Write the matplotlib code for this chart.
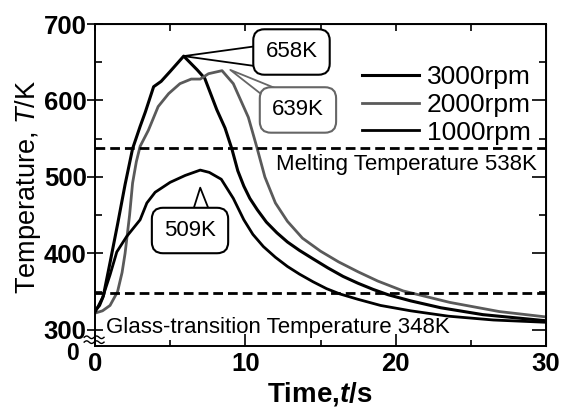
import numpy as np
import matplotlib
matplotlib.use("Agg")
import matplotlib.pyplot as plt
from matplotlib.ticker import MultipleLocator

plt.rcParams['font.family'] = ['Liberation Sans', 'DejaVu Sans']
plt.rcParams['mathtext.fontset'] = 'custom'
plt.rcParams['mathtext.rm'] = 'Liberation Sans'
plt.rcParams['mathtext.it'] = 'Liberation Sans:italic'
plt.rcParams['mathtext.bfit'] = 'Liberation Sans:bold:italic'

# datos
t3000 = [0, 0.3, 0.55, 1.0, 1.5, 2.0, 2.5, 3.0, 3.35, 3.9, 4.4, 5.0, 5.9, 6.8, 7.3, 8.1,
         8.65, 9.1, 9.5, 9.9, 10.3, 10.8, 11.4, 12.1, 12.8, 13.6, 14.5, 15.5, 16.5, 17.5,
         18.5, 19.5, 21.0, 23.0, 25.8, 30.0]
T3000 = [325, 332, 344, 388, 438, 490, 537, 566, 585, 618, 625, 638, 658, 640, 629, 588,
         564, 537, 508, 488, 472, 457, 441, 427, 415, 404, 393, 381, 370, 361,
         353, 346, 338, 329, 320, 312]

t2000 = [0, 0.5, 1.0, 1.5, 1.8, 2.0, 2.3, 2.5, 2.75, 3.0, 3.55, 4.2, 4.9, 5.65, 6.4, 7.0,
         7.55, 8.45, 9.2, 9.7, 10.2, 10.75, 11.3, 12.0, 12.8, 13.8, 15.0, 16.2, 17.5, 18.8,
         20.5, 23.6, 26.9, 30.0]
T2000 = [322, 325, 332, 350, 375, 400, 450, 492, 520, 540, 561, 592, 609, 622, 628, 628,
         635, 639, 622, 600, 578, 540, 500, 466, 442, 420, 403, 389, 376, 364,
         351, 336, 324, 317]

t1000 = [0, 0.5, 1.0, 1.45, 2.1, 3.0, 3.45, 4.0, 5.0, 6.0, 7.0, 7.6, 8.4, 9.2, 9.9, 10.5,
         11.2, 12.0, 12.8, 13.6, 14.5, 15.4, 16.3, 17.5, 19.0, 21.0, 23.5, 26.5, 30.0]
T1000 = [323, 342, 372, 402, 422, 444, 466, 480, 493, 502, 509, 506, 497, 472, 444, 425,
         409, 395, 383, 373, 363, 354, 347, 340, 332, 325, 318, 313, 310]

T_fusion = 538
T_vitrea = 348
picos = [(5.9, 658, '658K'), (9.0, 640, '639K'), (7.0, 486, '509K')]

gris = '#5a5a5a'

fig = plt.figure(figsize=(5.7, 4.07), dpi=100)
ax = fig.add_axes([95/570, 61/407, 451/570, 322/407])

ax.plot(t3000, T3000, color='black', lw=2.2, label='3000rpm')
ax.plot(t2000, T2000, color=gris, lw=2.0, label='2000rpm')
ax.plot(t1000, T1000, color='black', lw=2.0, label='1000rpm')

ax.axhline(T_fusion, color='black', lw=2.0, dashes=(3.5, 1.8))
ax.axhline(T_vitrea, color='black', lw=2.0, dashes=(3.5, 1.8))

ax.text(29.4, 516, 'Melting Temperature 538K', ha='right', va='center', fontsize=16)
ax.text(0.7, 296, 'Glass-transition Temperature 348K', ha='left', va='baseline', fontsize=16)

ax.set_xlim(0, 30)
ax.set_ylim(279, 700)
ax.set_xticks([0, 10, 20, 30])
ax.xaxis.set_minor_locator(MultipleLocator(5))
ax.set_yticks([300, 400, 500, 600, 700])
ax.yaxis.set_minor_locator(MultipleLocator(50))
for lab in ax.get_xticklabels() + ax.get_yticklabels():
    lab.set_fontweight('bold')
    lab.set_fontsize(18.5)
ax.tick_params(axis='x', which='major', direction='in', length=9, width=1.2, pad=4)
ax.tick_params(axis='x', which='minor', direction='in', length=4, width=1.2)
ax.tick_params(axis='y', which='major', direction='inout', length=12, width=1.2, pad=0)
ax.tick_params(axis='y', which='minor', direction='in', length=5, width=1.2)
for s in ax.spines.values():
    s.set_linewidth(1.4)

arriba = ax.secondary_xaxis('top')
arriba.set_xticks([0, 10, 20, 30])
arriba.xaxis.set_minor_locator(MultipleLocator(5))
arriba.tick_params(which='both', direction='in', length=5, width=1.2, labeltop=False)
derecha = ax.secondary_yaxis('right')
derecha.set_yticks([300, 400, 500, 600, 700])
derecha.yaxis.set_minor_locator(MultipleLocator(50))
derecha.tick_params(which='major', direction='in', length=10, width=1.2, labelright=False)
derecha.tick_params(which='minor', direction='in', length=5, width=1.2)

# marcas de corte del eje
xs = np.linspace(-0.024, 0.02, 40)
for y0 in [0.027, 0.012]:
    ax.plot(xs, y0 + 0.004*np.sin((xs - xs[0]) / (xs[-1] - xs[0]) * 4 * np.pi),
            color='black', lw=1.0, transform=ax.transAxes, clip_on=False, zorder=5)
fig.text(79/570, 1 - 354/407, '0', ha='right', va='center', fontsize=16.5, fontweight='bold')

# cuadros de los picos
cajas = [(13.07, 663.4, 'black', (0.05, 0.3), 1.05),
         (13.5, 587.6, '#666666', (0.25, 0.9), 0.8),
         (6.32, 430, 'black', (0.72, 0.9), 1.1)]
for (xp, yp, txt), (xc, yc, col, rp, tw) in zip(picos, cajas):
    ax.annotate(txt, xy=(xp, yp), xytext=(xc, yc), ha='center', va='center', fontsize=16,
                bbox=dict(boxstyle='round,pad=0.55,rounding_size=0.5', fc='white', ec=col, lw=1.5),
                arrowprops=dict(arrowstyle='wedge,tail_width=%.2f,shrink_factor=0.5' % tw,
                                fc='white', ec=col, lw=1.3, relpos=rp, patchA=None,
                                shrinkA=0, shrinkB=0))

ax.legend(loc='center left', bbox_to_anchor=(362/570, 1 - 105/407), bbox_transform=fig.transFigure,
          frameon=False, fontsize=19, handlelength=2.15, handletextpad=0.3, labelspacing=0.14,
          borderpad=0, borderaxespad=0)

fig.text(28/570, 1 - 187/407, 'Temperature, $\\mathit{T}$/K', rotation=90, ha='center', va='center',
         fontsize=19.5)
fig.text(320/570, 6/407, 'Time,$\\mathbfit{t}$/s', ha='center', va='baseline', fontsize=20,
         fontweight='bold')

plt.savefig('out.png', dpi=100)
